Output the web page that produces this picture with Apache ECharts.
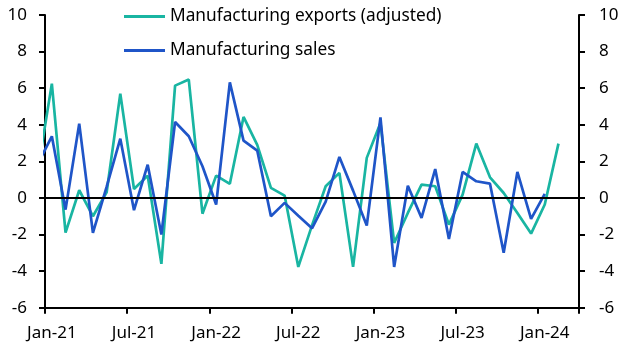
<!DOCTYPE html>
<html>
<head>
<meta charset="utf-8">
<script src="https://cdn.jsdelivr.net/npm/echarts@6/dist/echarts.min.js"></script>
<style>html,body{margin:0;padding:0;background:#fff;}#c{width:629px;height:355px;}</style>
</head>
<body>
<div id="c"></div>
<script>
// Monthly categories (Dec-20 is only partly visible at the left edge)
var months = ['Dec-20','Jan-21','Feb-21','Mar-21','Apr-21','May-21','Jun-21','Jul-21','Aug-21','Sep-21','Oct-21','Nov-21','Dec-21',
  'Jan-22','Feb-22','Mar-22','Apr-22','May-22','Jun-22','Jul-22','Aug-22','Sep-22','Oct-22','Nov-22','Dec-22',
  'Jan-23','Feb-23','Mar-23','Apr-23','May-23','Jun-23','Jul-23','Aug-23','Sep-23','Oct-23','Nov-23','Dec-23',
  'Jan-24','Feb-24','Mar-24'];
var exportsAdj = [1.6, 6.25, -1.9, 0.42, -1.0, 0.3, 5.7, 0.49, 1.22, -3.6, 6.14, 6.47, -0.86,
  1.22, 0.77, 4.43, 2.9, 0.55, 0.13, -3.77, -1.5, 0.64, 1.37, -3.77, 2.19,
  4.1, -2.46, -0.82, 0.73, 0.64, -1.46, 0.18, 2.97, 1.13, 0.27, -0.82, -1.95,
  -0.36, 2.97, null];
var sales = [1.9, 3.37, -0.64, 4.06, -1.91, 0.6, 3.24, -0.67, 1.82, -2.0, 4.15, 3.37, 1.73,
  -0.36, 6.32, 3.13, 2.59, -1.0, -0.27, -0.97, -1.66, -0.2, 2.24, 0.4, -1.51,
  4.4, -3.77, 0.67, -1.09, 1.58, -2.24, 1.42, 0.91, 0.78, -3.0, 1.42, -1.15,
  0.22, null, null];
var seriesNames = ['Manufacturing exports (adjusted)', 'Manufacturing sales'];
var yTicks = {min: -6, max: 10, interval: 2};

var FONT = 'Noto Sans';
var TEAL = '#19b5a2';
var BLUE = '#1f55c8';
function isLabelMonth(v){ return v.indexOf('Jan-') === 0 || v.indexOf('Jul-') === 0; }

var chart = echarts.init(document.getElementById('c'), null, {renderer: 'canvas'});
var yAxisBase = function(pos, margin){
  return {
    type: 'value', position: pos, min: yTicks.min, max: yTicks.max, interval: yTicks.interval,
    axisLine: {show: true, lineStyle: {color: '#000', width: 2}},
    axisTick: {show: true, inside: false, length: 6, lineStyle: {color: '#000', width: 2}},
    splitLine: {show: false},
    axisLabel: {color: '#000', fontFamily: FONT, fontSize: 17, margin: margin}
  };
};
chart.setOption({
  animation: false,
  backgroundColor: '#fff',
  grid: {left: 45, right: 50, top: 15, bottom: 47.3, containLabel: false},
  legend: {
    orient: 'vertical', left: 119, top: 3, itemGap: 17,
    itemWidth: 41, itemHeight: 3, icon: 'rect',
    textStyle: {color: '#000', fontFamily: FONT, fontSize: 17.3},
    data: [{name: seriesNames[0], icon: 'rect'}, {name: seriesNames[1], icon: 'rect'}]
  },
  xAxis: {
    type: 'category', data: months, boundaryGap: true, min: 1,
    axisLine: {show: true, onZero: false, lineStyle: {color: '#000', width: 2}},
    axisTick: {show: true, alignWithLabel: false, length: 6, lineStyle: {color: '#000', width: 2},
      interval: function(i, v){ return isLabelMonth(v); }},
    axisLabel: {color: '#000', fontFamily: FONT, fontSize: 17, margin: 17,
      interval: function(i, v){ return isLabelMonth(v); }},
    splitLine: {show: false}
  },
  yAxis: [yAxisBase('left', 18), yAxisBase('right', 20)],
  series: [
    {name: seriesNames[0], type: 'line', data: exportsAdj, symbol: 'none', clip: true,
      color: TEAL, lineStyle: {color: TEAL, width: 2.7}, itemStyle: {color: TEAL}, z: 3,
      markLine: {silent: true, symbol: 'none', label: {show: false},
        lineStyle: {color: '#000', width: 2, type: 'solid'}, data: [{yAxis: 0}]}},
    {name: seriesNames[1], type: 'line', data: sales, symbol: 'none', clip: true,
      color: BLUE, lineStyle: {color: BLUE, width: 2.7}, itemStyle: {color: BLUE}, z: 4}
  ]
});
</script>
</body>
</html>
